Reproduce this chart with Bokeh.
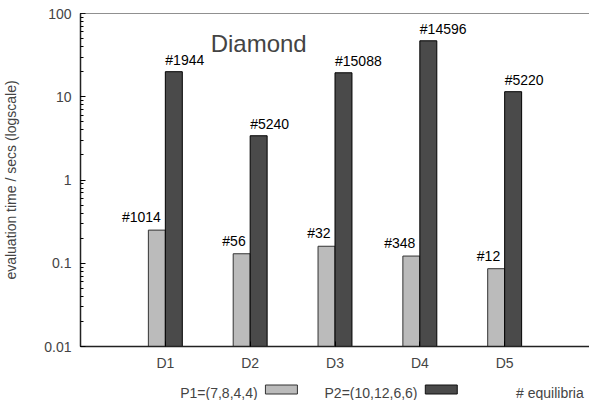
from bokeh.plotting import figure
from bokeh.layouts import column
from bokeh.models import (ColumnDataSource, Range1d, FixedTicker, Span,
                          Label, BoxAnnotation, NumeralTickFormatter)
from bokeh.transform import dodge
from bokeh.core.properties import value
from bokeh.embed import file_html
from bokeh.resources import INLINE

# ---- data ----
categories = ["D1", "D2", "D3", "D4", "D5"]
p1_times = [0.25, 0.13, 0.16, 0.122, 0.086]      # P1=(7,8,4,4), secs
p2_times = [20.0, 3.4, 19.4, 47.0, 11.5]         # P2=(10,12,6,6), secs
p1_equilibria = ["#1014", "#56", "#32", "#348", "#12"]
p2_equilibria = ["#1944", "#5240", "#15088", "#14596", "#5220"]
series_names = ["P1=(7,8,4,4)", "P2=(10,12,6,6)", "# equilibria"]
chart_title = "Diamond"
y_title = "evaluation time / secs (logscale)"

FONT = "Liberation Sans"
LIGHT = "#bbbbbb"
DARK = "#4a4a4a"
W = 589
MAIN_H = 373
LEG_H = 27

positions = list(range(1, len(categories) + 1))
src = ColumnDataSource(dict(x=positions, p1=p1_times, p2=p2_times,
                            l1=p1_equilibria, l2=p2_equilibria))

p = figure(width=W, height=MAIN_H, y_axis_type="log",
           x_range=Range1d(0, len(categories) + 1), y_range=Range1d(0.01, 100),
           output_backend="svg", toolbar_location=None,
           min_border_left=74, min_border_right=0, min_border_top=13, min_border_bottom=25)
p.outline_line_color = None
p.xgrid.visible = False
p.ygrid.visible = False

p.vbar(x=dodge("x", -0.1), width=0.2, bottom=0.01, top="p1", source=src,
       fill_color=LIGHT, line_color="#333333", line_width=1)
p.vbar(x=dodge("x", 0.1), width=0.2, bottom=0.01, top="p2", source=src,
       fill_color=DARK, line_color="#000000", line_width=1)

p.text(x=dodge("x", -0.1), y="p1", text="l1", source=src, text_align="right",
       text_baseline="alphabetic", x_offset=4, y_offset=-13,
       text_font=value(FONT), text_font_size="14px", text_color="black")
p.text(x="x", y="p2", text="l2", source=src, text_align="left",
       text_baseline="alphabetic", x_offset=0, y_offset=-12,
       text_font=value(FONT), text_font_size="14px", text_color="black")

xa = p.xaxis[0]
xa.ticker = FixedTicker(ticks=positions)
xa.major_label_overrides = {pos: c for pos, c in zip(positions, categories)}
xa.major_tick_in = 5
xa.major_tick_out = 0
xa.minor_tick_line_color = None
xa.major_label_standoff = 8
xa.major_label_text_font = FONT
xa.major_label_text_font_size = "14px"
xa.axis_line_width = 1.5
xa.axis_line_color = "#222222"

ya = p.yaxis[0]
ya.formatter = NumeralTickFormatter(format="0.[00]")
ya.major_tick_in = 5
ya.major_tick_out = 0
ya.minor_tick_in = 3
ya.minor_tick_out = 0
ya.major_label_standoff = 9
ya.major_label_text_font = FONT
ya.major_label_text_font_size = "14px"
ya.axis_label = y_title
ya.axis_label_text_font = FONT
ya.axis_label_text_font_size = "14px"
ya.axis_label_text_font_style = "normal"
ya.axis_label_standoff = 22
ya.axis_line_width = 1.5
ya.axis_line_color = "#222222"

p.add_layout(Span(location=100, dimension="width", line_color="#222222", line_width=1.2))
p.add_layout(Label(x=2.1, y=43.5, text=chart_title, text_font=FONT, text_font_size="24px",
                   text_align="center", text_baseline="alphabetic"))

# key strip below the chart (gnuplot style: text, then swatch)
leg = figure(width=W, height=LEG_H, x_range=Range1d(0, W), y_range=Range1d(LEG_H, 0),
             output_backend="svg", toolbar_location=None,
             x_axis_location=None, y_axis_location=None, min_border=0)
leg.outline_line_color = None
leg.xgrid.visible = False
leg.ygrid.visible = False

base = 19
leg.add_layout(Label(x=205, y=base, text=series_names[0], text_font=FONT,
                     text_font_size="14px", text_align="right", text_baseline="alphabetic"))
leg.add_layout(BoxAnnotation(left=214, right=251, top=11.5, bottom=20.5,
                             fill_color=LIGHT, fill_alpha=1, line_color="#333333",
                             line_alpha=1, line_width=1))
leg.add_layout(Label(x=390, y=base, text=series_names[1], text_font=FONT,
                     text_font_size="14px", text_align="right", text_baseline="alphabetic"))
leg.add_layout(BoxAnnotation(left=399, right=436, top=11.5, bottom=20.5,
                             fill_color=DARK, fill_alpha=1, line_color="#111111",
                             line_alpha=1, line_width=1))
leg.add_layout(Label(x=504, y=base, text=series_names[2], text_font=FONT,
                     text_font_size="14px", text_align="left", text_baseline="alphabetic"))

layout = column(p, leg, spacing=0)
open("out.html", "w").write(file_html(layout, INLINE))
